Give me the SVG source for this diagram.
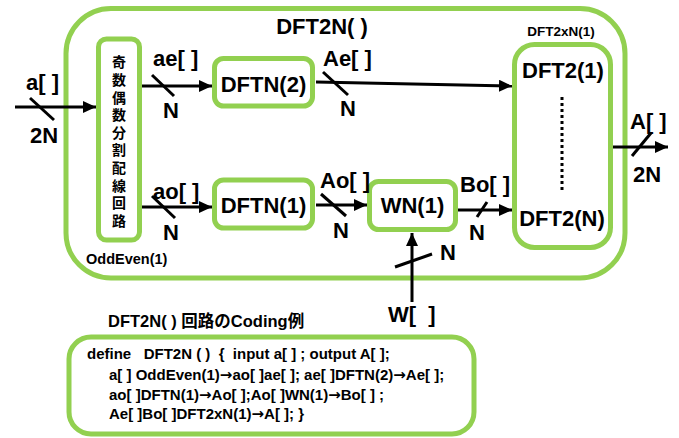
<svg xmlns="http://www.w3.org/2000/svg" width="679" height="438" viewBox="0 0 679 438">
  <style>
    .box { fill: none; stroke: #92D050; stroke-width: 5; }
    .wire { fill: none; stroke: #000; stroke-width: 3; }
    .tick { fill: none; stroke: #000; stroke-width: 3; }
    .t { font-family: "Liberation Sans", Arial, sans-serif; font-weight: bold; fill: #000; }
    .lbl { font-size: 22px; }
    .jp { font-family: "Noto Sans CJK JP", "Noto Sans", sans-serif; font-weight: bold; font-size: 14px; fill: #000; }
    .code { font-family: "Liberation Sans", "Noto Sans CJK JP", sans-serif; font-weight: bold; font-size: 15px; fill: #000; }
    .ar { font-family: "DejaVu Sans", sans-serif; font-weight: bold; }
  </style>
  <defs>
    <marker id="arrow" markerUnits="userSpaceOnUse" markerWidth="13" markerHeight="12" refX="13" refY="6" orient="auto">
      <path d="M0,0 L13,6 L0,12 z" fill="#000"/>
    </marker>
  </defs>

  <rect width="679" height="438" fill="#fff"/>

  <!-- enclosing DFT2N( ) block -->
  <g id="dft2n">
    <rect class="box" x="66" y="8.5" width="559" height="269.5" rx="45"/>
    <text class="t lbl" x="322" y="34" text-anchor="middle">DFT2N( )</text>
  </g>

  <!-- odd/even splitter, label set vertically -->
  <g id="oddeven">
    <rect class="box" x="98.5" y="39" width="41" height="201" rx="8"/>
    <text class="jp" x="119" y="55" writing-mode="vertical-rl" letter-spacing="3.6">奇数偶数分割配線回路</text>
    <text class="t" x="86" y="264" font-size="14.5">OddEven(1)</text>
  </g>

  <g id="dftn2">
    <rect class="box" x="214.5" y="58.5" width="98" height="47.5" rx="9"/>
    <text class="t lbl" x="263.5" y="92" text-anchor="middle">DFTN(2)</text>
  </g>

  <g id="dftn1">
    <rect class="box" x="214.5" y="180" width="98" height="48" rx="9"/>
    <text class="t lbl" x="263.5" y="213" text-anchor="middle">DFTN(1)</text>
  </g>

  <g id="wn1">
    <rect class="box" x="369.5" y="181.5" width="86" height="48" rx="9"/>
    <text class="t lbl" x="412.5" y="213" text-anchor="middle">WN(1)</text>
  </g>

  <g id="dft2xn">
    <rect class="box" x="514.5" y="44.5" width="96" height="203" rx="20"/>
    <text class="t" x="561" y="36" font-size="13.5" text-anchor="middle">DFT2xN(1)</text>
    <text class="t lbl" x="563" y="78" text-anchor="middle">DFT2(1)</text>
    <line x1="562" y1="97" x2="562" y2="193" stroke="#000" stroke-width="3" stroke-dasharray="3 3"/>
    <text class="t lbl" x="562" y="226" text-anchor="middle">DFT2(N)</text>
  </g>

  <!-- signal wires with bus-width ticks -->
  <g id="connectors">
    <path class="wire" d="M15,107 L96,107" marker-end="url(#arrow)"/>
    <path class="tick" d="M30,98 L54,120"/>

    <path class="wire" d="M142,86 L212,86" marker-end="url(#arrow)"/>
    <path class="tick" d="M152,75 L174,96"/>

    <path class="wire" d="M316,82 L512,86" marker-end="url(#arrow)"/>
    <path class="tick" d="M323,72 L348,95"/>

    <path class="wire" d="M142,207 L212,207" marker-end="url(#arrow)"/>
    <path class="tick" d="M152,196 L175,218"/>

    <path class="wire" d="M316,205 L367,205" marker-end="url(#arrow)"/>
    <path class="tick" d="M321,194 L346,216"/>

    <path class="wire" d="M458,210 L512,210" marker-end="url(#arrow)"/>
    <path class="tick" d="M477,217 L487,202"/>

    <path class="wire" d="M412,302 L412,233" marker-end="url(#arrow)"/>
    <path class="tick" d="M395,267 L432,254"/>

    <path class="wire" d="M613,147 L668,147" marker-end="url(#arrow)"/>
    <path class="tick" d="M632,156 L651,133"/>
  </g>

  <!-- wire labels -->
  <g id="wire-labels" class="t lbl">
    <text x="26" y="90">a[ ]</text>
    <text x="30" y="143">2N</text>
    <text x="153" y="66">ae[ ]</text>
    <text x="163" y="118">N</text>
    <text x="323" y="66">Ae[ ]</text>
    <text x="340" y="116">N</text>
    <text x="153" y="199">ao[ ]</text>
    <text x="163" y="240">N</text>
    <text x="320" y="188">Ao[ ]</text>
    <text x="333" y="238">N</text>
    <text x="460" y="192">Bo[ ]</text>
    <text x="469" y="240">N</text>
    <text x="440" y="260">N</text>
    <text x="388" y="322" xml:space="preserve">W[  ]</text>
    <text x="630" y="129">A[ ]</text>
    <text x="633" y="182">2N</text>
  </g>

  <!-- coding example -->
  <g id="code-example">
    <text x="108" y="327" font-family="'Liberation Sans', 'Noto Sans CJK JP', sans-serif" font-weight="bold" font-size="16.5">DFT2N( ) 回路のCoding例</text>
    <rect class="box" x="69" y="337" width="405" height="97" rx="22"/>
    <text class="code" x="87" y="359" xml:space="preserve">define   DFT2N ( )  {  input a[ ] ; output A[ ];</text>
    <text class="code" x="109" y="380">a[ ] OddEven(1)<tspan class="ar">→</tspan>ao[ ]ae[ ]; ae[ ]DFTN(2)<tspan class="ar">→</tspan>Ae[ ];</text>
    <text class="code" x="109" y="400">ao[ ]DFTN(1)<tspan class="ar">→</tspan>Ao[ ];Ao[ ]WN(1)<tspan class="ar">→</tspan>Bo[ ] ;</text>
    <text class="code" x="109" y="419">Ae[ ]Bo[ ]DFT2xN(1)<tspan class="ar">→</tspan>A[ ]; }</text>
  </g>
</svg>
